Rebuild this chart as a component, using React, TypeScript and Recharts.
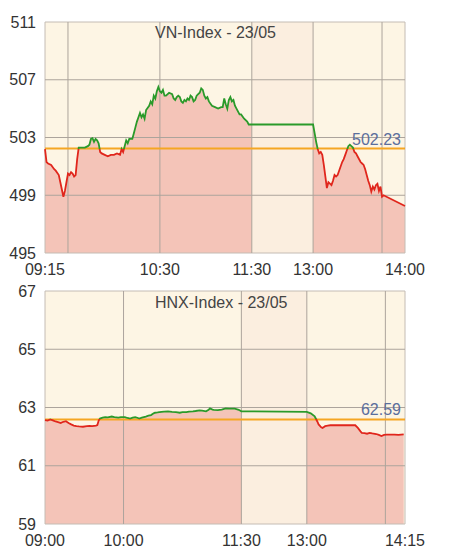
import {
  ComposedChart,
  Area,
  Line,
  XAxis,
  YAxis,
  CartesianGrid,
  ReferenceLine,
  ReferenceArea
} from 'recharts'

// VN-Index, 23/05
const vnTimes = [
  '09:15', '09:16', '09:17', '09:19', '09:21', '09:22', '09:24', '09:25', '09:26', '09:27',
  '09:28', '09:29', '09:30', '09:31', '09:32', '09:33', '09:34', '09:35', '09:36', '09:37',
  '09:39', '09:41', '09:43', '09:44', '09:45', '09:46', '09:47', '09:48', '09:49', '09:50',
  '09:51', '09:52', '09:54', '09:56', '09:58', '10:00', '10:02', '10:04', '10:05', '10:06',
  '10:07', '10:08', '10:09', '10:10', '10:12', '10:13', '10:14', '10:15', '10:16', '10:17',
  '10:18', '10:19', '10:20', '10:21', '10:23', '10:24', '10:25', '10:26', '10:27', '10:28',
  '10:29', '10:30', '10:31', '10:32', '10:33', '10:34', '10:36', '10:38', '10:39', '10:40',
  '10:41', '10:42', '10:43', '10:44', '10:45', '10:46', '10:47', '10:48', '10:49', '10:50',
  '10:51', '10:52', '10:53', '10:54', '10:55', '10:56', '10:57', '10:58', '10:59', '11:00',
  '11:01', '11:02', '11:04', '11:06', '11:08', '11:10', '11:11', '11:12', '11:13', '11:14',
  '11:15', '11:16', '11:17', '11:18', '11:19', '11:20', '11:22', '11:23', '11:25', '11:27',
  '11:28', '11:30',
  '13:00', '13:01', '13:02', '13:03', '13:04', '13:05', '13:06', '13:07', '13:08', '13:09',
  '13:10', '13:11', '13:12', '13:13', '13:14', '13:15', '13:16', '13:17', '13:19', '13:20',
  '13:21', '13:22', '13:23', '13:24', '13:25', '13:26', '13:27', '13:28', '13:29', '13:31',
  '13:32', '13:33', '13:34', '13:35', '13:36', '13:37', '13:38', '13:39', '13:40', '13:41',
  '13:42', '13:43', '13:44', '13:45', '13:46', '14:00'
]
const vnValues = [
  502.2, 501.3, 501.2, 501.1, 500.8, 500.7, 500.4, 499.9, 499.4, 498.9,
  499.3, 499.9, 500.5, 500.4, 500.6, 500.5, 500.3, 500.4, 501.5, 502.3,
  502.3, 502.3, 502.4, 502.5, 502.9, 502.95, 502.7, 502.9, 502.8, 502.6,
  502.0, 501.9, 501.8, 501.7, 501.8, 501.8, 501.9, 501.8, 502.2, 502.0,
  502.4, 502.8, 502.6, 502.9, 502.9, 503.3, 503.7, 504.1, 504.4, 504.7,
  504.4, 504.6, 504.3, 504.9, 505.2, 505.5, 505.3, 505.9, 505.7, 506.2,
  506.5, 506.2, 506.1, 506.3, 505.9, 505.9, 506.1, 506.0, 505.7, 505.6,
  505.8, 505.9, 505.8, 505.5, 505.4, 505.6, 505.5, 505.7, 505.6, 505.9,
  505.8, 505.5, 505.6, 505.9, 506.0, 506.1, 506.4, 506.3, 505.9, 505.7,
  505.8, 505.5, 505.2, 505.1, 505.0, 505.1, 505.1, 505.7, 505.3, 505.0,
  505.6, 505.8, 505.5, 505.6, 505.2, 505.0, 504.6, 504.6, 504.3, 504.1,
  503.9, 503.9,
  503.9, 503.3, 502.7, 502.2, 501.9, 502.0, 501.8, 501.1, 500.3, 499.5,
  499.9, 499.8, 499.7, 500.0, 500.4, 500.3, 500.4, 500.7, 501.3, 501.5,
  501.8, 502.1, 502.4, 502.5, 502.4, 502.3, 502.0, 501.9, 501.7, 501.3,
  501.2, 501.1, 500.8, 500.4, 500.0, 499.7, 499.25, 499.6, 499.4, 499.7,
  499.8, 499.3, 499.6, 498.9, 499.0, 498.26
]
const vnRef = 502.23
const vnYTicks = [495, 499, 503, 507, 511]
const vnXLabels = ['09:15', '10:30', '11:30', '13:00', '14:00']
const vnGridTimes = ['09:30', '10:30', '11:30', '13:00', '13:45']

// HNX-Index, 23/05
const hnxTimes = [
  '09:00', '09:02', '09:04', '09:06', '09:08', '09:10', '09:12', '09:14', '09:16', '09:18',
  '09:20', '09:22', '09:24', '09:26', '09:29', '09:32', '09:34', '09:36', '09:39', '09:40',
  '09:41', '09:42', '09:44', '09:46', '09:48', '09:51', '09:53', '09:56', '09:58', '10:01',
  '10:03', '10:05', '10:07', '10:09', '10:11', '10:12', '10:14', '10:17', '10:19', '10:21',
  '10:23', '10:24', '10:26', '10:29', '10:31', '10:34', '10:37', '10:40', '10:43', '10:45',
  '10:48', '10:50', '10:53', '10:55', '10:58', '11:00', '11:03', '11:05', '11:06', '11:08',
  '11:09', '11:12', '11:15', '11:18', '11:21', '11:25', '11:28', '11:30',
  '13:00', '13:03', '13:06', '13:08', '13:09', '13:11', '13:12', '13:14', '13:16', '13:18',
  '13:25', '13:30', '13:37', '13:39', '13:41', '13:42', '13:44', '13:46', '13:48', '13:50',
  '13:53', '13:55', '13:57', '13:59', '14:01', '14:04', '14:07', '14:10', '14:14'
]
const hnxValues = [
  62.57, 62.55, 62.59, 62.56, 62.52, 62.5, 62.47, 62.51, 62.53, 62.47,
  62.42, 62.38, 62.36, 62.35, 62.34, 62.36, 62.37, 62.36, 62.38, 62.4,
  62.55, 62.62, 62.65, 62.67, 62.66, 62.69, 62.67, 62.65, 62.67, 62.67,
  62.64, 62.62, 62.65, 62.67, 62.64, 62.62, 62.65, 62.69, 62.72, 62.74,
  62.8, 62.82, 62.83, 62.85, 62.86, 62.87, 62.85, 62.84, 62.82, 62.84,
  62.84, 62.86, 62.87, 62.88, 62.9, 62.89, 62.87, 62.92, 62.97, 62.93,
  62.92, 62.91, 62.93, 62.97, 62.96, 62.96, 62.92, 62.87,
  62.85, 62.8, 62.7, 62.52, 62.42, 62.32, 62.3, 62.36, 62.38, 62.39,
  62.39, 62.39, 62.39, 62.3, 62.18, 62.13, 62.12, 62.1, 62.13, 62.11,
  62.09, 62.06, 62.02, 62.06, 62.07, 62.07, 62.07, 62.06, 62.08
]
const hnxRef = 62.59
const hnxYTicks = [59, 61, 63, 65, 67]
const hnxXLabels = ['09:00', '10:00', '11:30', '13:00', '14:15']
const hnxGridTimes = ['10:00', '11:30', '13:00', '14:00']

const CREAM = '#fdf5e4'
const LUNCH = '#fbeedf'
const PINK = '#f4c4b8'
const GREEN = '#2a9a2a'
const RED = '#e0261c'
const ORANGE = '#f5a623'
const GRID = '#aca49c'
const FONT = '"Liberation Sans", Arial, sans-serif'

const mins = (s: string) => {
  const [h, m] = s.split(':').map(Number)
  return h * 60 + m
}

// lunch break 11:30-13:00 is squeezed into `gap` minutes on the x axis
function makeX(start: string, gap: number) {
  const s = mins(start)
  const a = mins('11:30')
  const b = mins('13:00')
  return (t: string) => {
    const m = mins(t)
    if (m <= a) return m - s
    if (m >= b) return a - s + gap + (m - b)
    return a - s + ((m - a) / (b - a)) * gap
  }
}

function buildRows(times: string[], values: number[], toX: (t: string) => number, top: number) {
  const rows: any[] = []
  times.forEach((t, i) => {
    const edge = t === '11:30' || t === '13:00'
    if (t === '13:00') {
      // no pink fill during lunch
      rows.push({ t: toX('12:15'), v: null, fill: null, band: top })
    }
    rows.push({ t: toX(t), v: values[i], fill: values[i], band: edge ? top : null })
  })
  return rows
}

interface IndexChartProps {
  id: string
  title: string
  times: string[]
  values: number[]
  refValue: number
  yTicks: number[]
  xLabels: string[]
  gridTimes: string[]
  start: string
  gap: number
  height: number
  top: number
  bottom: number
  titleTop: number
}

function IndexChart(p: IndexChartProps) {
  const toX = makeX(p.start, p.gap)
  const lo = p.yTicks[0]
  const hi = p.yTicks[p.yTicks.length - 1]
  const rows = buildRows(p.times, p.values, toX, hi)
  const xEnd = toX(p.xLabels[p.xLabels.length - 1])
  const xTicks = p.xLabels.map(toX)
  const max = Math.max(...p.values)
  const min = Math.min(...p.values)
  const off = (max - p.refValue) / (max - min)
  const tickStyle = { fill: '#333', fontSize: 16, fontFamily: FONT }

  return (
    <div style={{ position: 'relative', width: 457, height: p.height }}>
      <ComposedChart
        width={457}
        height={p.height}
        data={rows}
        margin={{ top: p.top, right: 0, bottom: 0, left: 0 }}
      >
        <defs>
          <linearGradient id={p.id} x1="0" y1="0" x2="0" y2="1">
            <stop offset={off} stopColor={GREEN} />
            <stop offset={off} stopColor={RED} />
          </linearGradient>
        </defs>
        <CartesianGrid fill={CREAM} horizontal={false} vertical={false} />
        <XAxis
          dataKey="t"
          type="number"
          domain={[0, xEnd]}
          ticks={xTicks}
          interval={0}
          tickFormatter={(v) => p.xLabels[xTicks.indexOf(v)] ?? ''}
          axisLine={false}
          tickLine={false}
          tickSize={0}
          tickMargin={11}
          height={p.bottom}
          tick={tickStyle}
        />
        <YAxis
          domain={[lo, hi]}
          ticks={p.yTicks}
          interval={0}
          axisLine={false}
          tickLine={false}
          tickSize={0}
          tickMargin={9}
          width={45}
          tick={tickStyle}
        />
        <YAxis
          yAxisId="r"
          orientation="right"
          domain={[lo, hi]}
          ticks={p.yTicks}
          interval={0}
          axisLine={false}
          tickLine={false}
          tickSize={0}
          tickMargin={7}
          width={52}
          tick={tickStyle}
        />
        <Area dataKey="band" fill={LUNCH} fillOpacity={1} stroke="none" isAnimationActive={false} />
        <Area dataKey="fill" fill={PINK} fillOpacity={1} stroke="none" isAnimationActive={false} />
        {p.yTicks.slice(1, -1).map((y) => (
          <ReferenceLine key={'h' + y} y={y} stroke={GRID} />
        ))}
        {p.gridTimes.map((t) => (
          <ReferenceLine key={'v' + t} x={toX(t)} stroke={GRID} />
        ))}
        <ReferenceLine
          y={p.refValue}
          stroke={ORANGE}
          strokeWidth={2}
          label={{
            value: p.refValue.toFixed(2),
            position: 'insideBottomRight',
            offset: 4,
            fill: '#5b6e9c',
            fontSize: 16,
            fontFamily: FONT
          }}
        />
        <Line
          dataKey="v"
          type="linear"
          stroke={`url(#${p.id})`}
          strokeWidth={1.8}
          dot={false}
          activeDot={false}
          connectNulls
          isAnimationActive={false}
        />
        <ReferenceArea x1={0} x2={xEnd} y1={lo} y2={hi} fill="none" stroke="#c4bcb4" />
      </ComposedChart>
      <div
        style={{
          position: 'absolute',
          left: 155,
          top: p.titleTop,
          fontFamily: FONT,
          fontSize: 16,
          lineHeight: '18px',
          color: '#444'
        }}
      >
        {p.title}
      </div>
    </div>
  )
}

export default function App() {
  return (
    <div style={{ position: 'absolute', left: 0, top: 0, width: 457, height: 556, background: '#fff' }}>
      <IndexChart
        id="vnGrad"
        title="VN-Index - 23/05"
        times={vnTimes}
        values={vnValues}
        refValue={vnRef}
        yTicks={vnYTicks}
        xLabels={vnXLabels}
        gridTimes={vnGridTimes}
        start="09:15"
        gap={40}
        height={282}
        top={22}
        bottom={29}
        titleTop={24}
      />
      <IndexChart
        id="hnxGrad"
        title="HNX-Index - 23/05"
        times={hnxTimes}
        values={hnxValues}
        refValue={hnxRef}
        yTicks={hnxYTicks}
        xLabels={hnxXLabels}
        gridTimes={hnxGridTimes}
        start="09:00"
        gap={50}
        height={274}
        top={9}
        bottom={32}
        titleTop={12}
      />
    </div>
  )
}
